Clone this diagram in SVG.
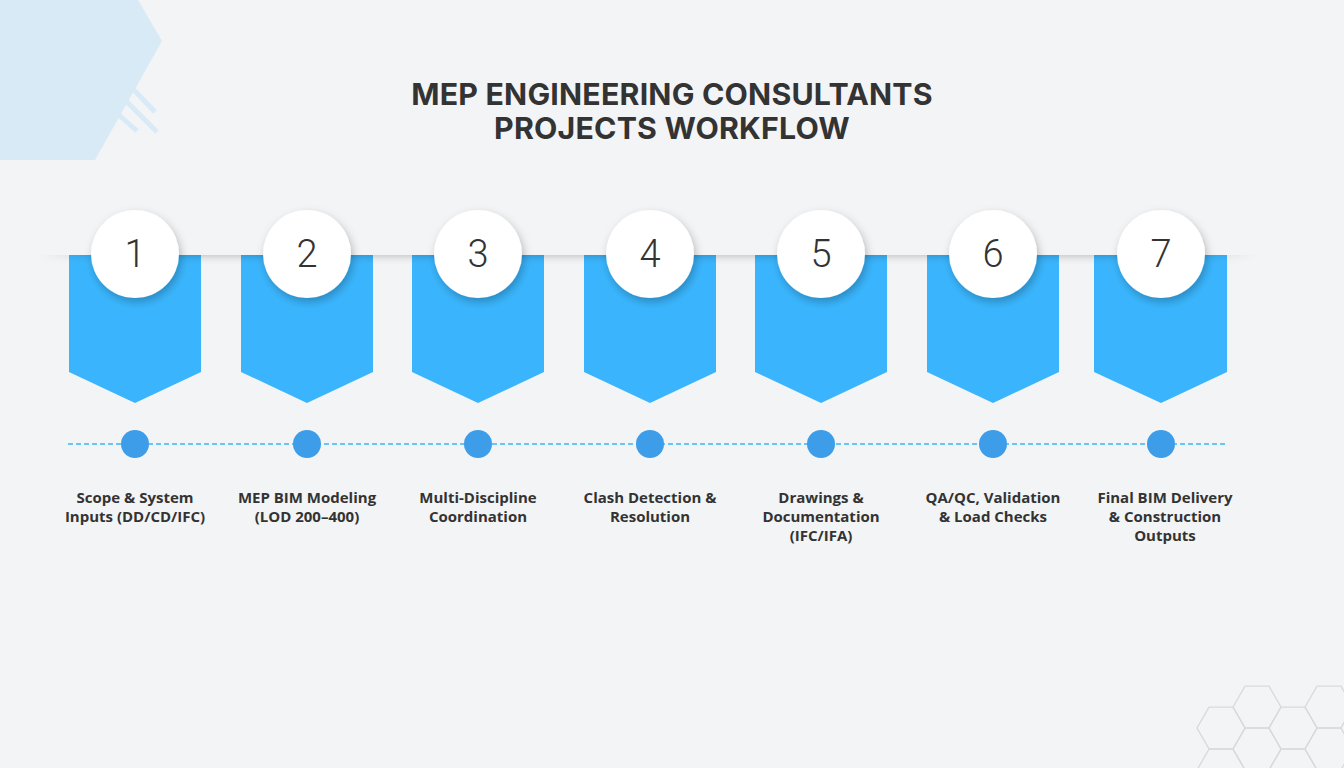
<svg xmlns="http://www.w3.org/2000/svg" width="1344" height="768" viewBox="0 0 1344 768">
<defs>
<style>
.title{font-family:Inter,"Liberation Sans",sans-serif;font-weight:700;font-size:30.3px;letter-spacing:0.2px;fill:#333;text-anchor:middle}
.num{font-family:Roboto,"Liberation Sans",sans-serif;font-weight:300;font-size:38px;fill:#333;text-anchor:middle}
.lbl{font-family:"Open Sans","Liberation Sans",sans-serif;font-weight:700;font-size:15px;fill:#333;text-anchor:middle}
.banner{fill:#3ab5fd}
.circ{fill:#fff;filter:url(#ds)}
.dot{fill:#3d9de9}
.hex{fill:none;stroke:#d8d9dc;stroke-width:1.3}
</style>
<filter id="ds" x="-30%" y="-30%" width="160%" height="170%">
<feDropShadow dx="2" dy="4" stdDeviation="4" flood-color="#000" flood-opacity="0.25"/>
</filter>
<filter id="blur" x="-5%" y="-200%" width="110%" height="500%">
<feGaussianBlur stdDeviation="5"/>
</filter>
<clipPath id="below"><rect x="0" y="255" width="1344" height="40"/></clipPath>
<linearGradient id="fade" x1="0" x2="1" y1="0" y2="0">
<stop offset="0" stop-color="#000" stop-opacity="0"/>
<stop offset="0.06" stop-color="#000" stop-opacity="0.3"/>
<stop offset="0.94" stop-color="#000" stop-opacity="0.3"/>
<stop offset="1" stop-color="#000" stop-opacity="0"/>
</linearGradient>
</defs>
<rect width="1344" height="768" fill="#f3f4f6"/>
<g id="decor-topleft" fill="#d9eaf7">
<polygon points="0,0 138,0 162,41 95,160 0,160"/>
<g stroke="#d9eaf7" stroke-width="5">
<line x1="132" y1="88" x2="155" y2="112"/>
<line x1="126" y1="101" x2="157" y2="132"/>
<line x1="119" y1="115" x2="137" y2="131"/>
</g>
</g>
<g id="decor-hex">
<polygon class="hex" points="1197,728 1209,707.2 1233,707.2 1245,728 1233,748.8 1209,748.8"/>
<polygon class="hex" points="1233,707 1245,686.2 1269,686.2 1281,707 1269,727.8 1245,727.8"/>
<polygon class="hex" points="1269,728 1281,707.2 1305,707.2 1317,728 1305,748.8 1281,748.8"/>
<polygon class="hex" points="1305,707 1317,686.2 1341,686.2 1353,707 1341,727.8 1317,727.8"/>
<polygon class="hex" points="1197,770 1209,749.2 1233,749.2 1245,770 1233,790.8 1209,790.8"/>
<polygon class="hex" points="1233,749 1245,728.2 1269,728.2 1281,749 1269,769.8 1245,769.8"/>
<polygon class="hex" points="1269,770 1281,749.2 1305,749.2 1317,770 1305,790.8 1281,790.8"/>
<polygon class="hex" points="1305,749 1317,728.2 1341,728.2 1353,749 1341,769.8 1317,769.8"/>
</g>
<text class="title" x="672" y="105">MEP ENGINEERING CONSULTANTS</text>
<text class="title" x="672" y="139">PROJECTS WORKFLOW</text>
<g id="banners">
<polygon class="banner" points="69,255 201,255 201,372 135,403 69,372"/>
<polygon class="banner" points="241,255 373,255 373,372 307,403 241,372"/>
<polygon class="banner" points="412,255 544,255 544,372 478,403 412,372"/>
<polygon class="banner" points="584,255 716,255 716,372 650,403 584,372"/>
<polygon class="banner" points="755,255 887,255 887,372 821,403 755,372"/>
<polygon class="banner" points="927,255 1059,255 1059,372 993,403 927,372"/>
<polygon class="banner" points="1094,255 1227,255 1227,372 1161,403 1094,372"/>
</g>
<g id="shelf-shadow" clip-path="url(#below)">
<rect x="40" y="247" width="1215" height="8" fill="url(#fade)" filter="url(#blur)"/>
</g>
<g id="connectors">
<line x1="68" y1="444" x2="1227" y2="444" stroke="#3db5f5" stroke-width="1.5" stroke-dasharray="5,3"/>
</g>
<g id="step1"><circle class="circ" cx="135" cy="254" r="44"/><text class="num" x="135" y="267">1</text><circle class="dot" cx="135" cy="444" r="14"/><text class="lbl" x="135" y="503">Scope &amp; System</text><text class="lbl" x="135" y="522">Inputs (DD/CD/IFC)</text></g>
<g id="step2"><circle class="circ" cx="307" cy="254" r="44"/><text class="num" x="307" y="267">2</text><circle class="dot" cx="307" cy="444" r="14"/><text class="lbl" x="307" y="503">MEP BIM Modeling</text><text class="lbl" x="307" y="522">(LOD 200–400)</text></g>
<g id="step3"><circle class="circ" cx="478" cy="254" r="44"/><text class="num" x="478" y="267">3</text><circle class="dot" cx="478" cy="444" r="14"/><text class="lbl" x="478" y="503">Multi-Discipline</text><text class="lbl" x="478" y="522">Coordination</text></g>
<g id="step4"><circle class="circ" cx="650" cy="254" r="44"/><text class="num" x="650" y="267">4</text><circle class="dot" cx="650" cy="444" r="14"/><text class="lbl" x="650" y="503">Clash Detection &amp;</text><text class="lbl" x="650" y="522">Resolution</text></g>
<g id="step5"><circle class="circ" cx="821" cy="254" r="44"/><text class="num" x="821" y="267">5</text><circle class="dot" cx="821" cy="444" r="14"/><text class="lbl" x="821" y="503">Drawings &amp;</text><text class="lbl" x="821" y="522">Documentation</text><text class="lbl" x="821" y="541">(IFC/IFA)</text></g>
<g id="step6"><circle class="circ" cx="993" cy="254" r="44"/><text class="num" x="993" y="267">6</text><circle class="dot" cx="993" cy="444" r="14"/><text class="lbl" x="993" y="503">QA/QC, Validation</text><text class="lbl" x="993" y="522">&amp; Load Checks</text></g>
<g id="step7"><circle class="circ" cx="1161" cy="254" r="44"/><text class="num" x="1161" y="267">7</text><circle class="dot" cx="1161" cy="444" r="14"/><text class="lbl" x="1165" y="503">Final BIM Delivery</text><text class="lbl" x="1165" y="522">&amp; Construction</text><text class="lbl" x="1165" y="541">Outputs</text></g>
</svg>
